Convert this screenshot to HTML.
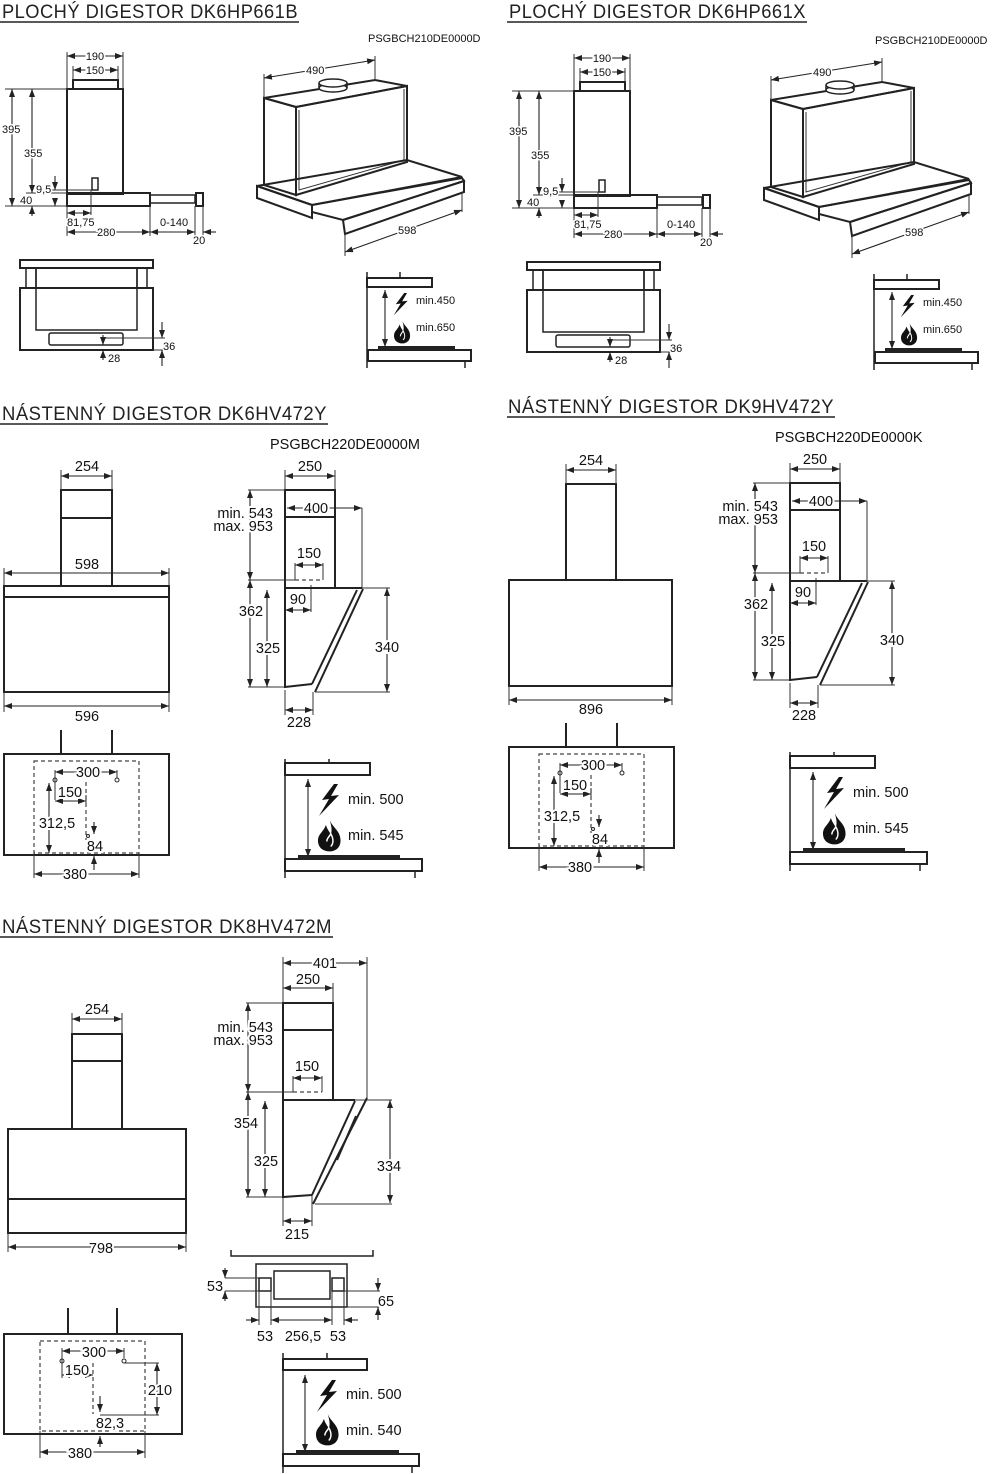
<!DOCTYPE html>
<html><head><meta charset="utf-8"><style>
html,body{margin:0;padding:0;background:#fff}
svg{display:block;font-family:"Liberation Sans",sans-serif}
.o{fill:none;stroke:#222;stroke-width:2}
.t{fill:none;stroke:#333;stroke-width:1}
.d{fill:none;stroke:#222;stroke-width:1.1;marker-start:url(#a);marker-end:url(#a)}
.d1{fill:none;stroke:#222;stroke-width:1.1;marker-end:url(#a)}
.ds{fill:none;stroke:#444;stroke-width:1.2;stroke-dasharray:4 3}
.s{font-size:11px;fill:#111;stroke:#fff;stroke-width:3;paint-order:stroke}
.m{font-size:14.5px;fill:#111;stroke:#fff;stroke-width:4;paint-order:stroke}
.h{font-size:19px;fill:#222;letter-spacing:0.5px}
</style></head><body>
<svg width="993" height="1474" viewBox="0 0 993 1474" xmlns="http://www.w3.org/2000/svg">
<defs>
<marker id="a" viewBox="0 0 8 6" refX="8" refY="3" markerWidth="8" markerHeight="6" markerUnits="userSpaceOnUse" orient="auto-start-reverse"><path d="M0,0L8,3L0,6z" fill="#222"/></marker>
<path id="bolt" d="M16,0 L4,16 L11,15 L1,32 L21,11 L13,12 L20,0 Z" fill="#111"/>
<g id="flame"><path d="M12,0 C15,8 23,11 23,21 C23,28 18,32 12,32 C5,32 0,28 0,21 C0,14 6,12 8,5 C10,11 12,12 13,15 C15,10 13,4 12,0 Z" fill="#111"/><path d="M9,22 C9,18 12,17 13,14 C16,19 16,24 13,27" fill="none" stroke="#fff" stroke-width="1.5"/></g>

<g id="s1">
<text x="368" y="42" style="font-size:11px;fill:#111">PSGBCH210DE0000D</text>
<!-- side -->
<rect class="o" x="67" y="89" width="56" height="105"/>
<rect class="o" x="73" y="80" width="45" height="9"/>
<rect class="o" x="67" y="193" width="83" height="13"/>
<rect class="o" style="stroke-width:1.5" x="150" y="195" width="45" height="8"/>
<rect class="o" x="196" y="193" width="7" height="13"/>
<rect class="o" style="stroke-width:1.5" x="92" y="178" width="6" height="12"/>
<path class="t" d="M67,52V89M123,52V89M73,66V80M118,66V80M5,89H67M5,206H67M26,193H67M50,190H92M91,190V215M150,206V236M67,206V236M195,206V236M203,206V236"/>
<line class="d" x1="67" y1="56" x2="123" y2="56"/><text class="s" x="95" y="60" text-anchor="middle">190</text>
<line class="d" x1="73" y1="70" x2="118" y2="70"/><text class="s" x="95" y="74" text-anchor="middle">150</text>
<line class="d" x1="12" y1="89" x2="12" y2="206"/><text class="s" x="2" y="133">395</text>
<line class="d" x1="32" y1="89" x2="32" y2="193"/><text class="s" x="24" y="157">355</text>
<line class="d1" x1="55" y1="176" x2="55" y2="190"/><line class="d1" x1="55" y1="198" x2="55" y2="206"/><line class="d1" x1="32" y1="216" x2="32" y2="206"/>
<text class="s" x="36" y="193">9,5</text><text class="s" x="20" y="204">40</text>
<line class="d" x1="67" y1="213" x2="91" y2="213"/><text class="s" x="67" y="226">81,75</text>
<line class="d" x1="67" y1="232" x2="150" y2="232"/><text class="s" x="97" y="236">280</text>
<line class="d" x1="150" y1="232" x2="195" y2="232"/><text class="s" x="160" y="226">0-140</text>
<line class="d1" x1="216" y1="232" x2="203" y2="232"/><text class="s" x="193" y="244">20</text>
<!-- front -->
<rect class="o" x="20" y="260" width="133" height="8"/>
<rect class="o" style="stroke-width:1.5" x="26" y="268" width="10" height="20"/>
<rect class="o" style="stroke-width:1.5" x="137" y="268" width="10" height="20"/>
<rect class="o" x="20" y="288" width="133" height="62"/>
<rect class="o" style="stroke-width:1.5" x="36" y="268" width="101" height="62"/>
<rect class="o" style="stroke-width:1.5" x="49" y="333" width="74" height="12" rx="2"/>
<path class="t" d="M103,338H165M153,350H165"/>
<line class="d1" x1="162" y1="322" x2="162" y2="338"/><line class="d1" x1="162" y1="366" x2="162" y2="350"/>
<line class="d1" x1="103" y1="335" x2="103" y2="345"/><line class="d1" x1="103" y1="360" x2="103" y2="350"/>
<text class="s" x="163" y="350">36</text><text class="s" x="108" y="362">28</text>
<!-- perspective -->
<polygon class="o" points="264,98 375,80 407,86 296,107"/>
<polygon class="o" points="296,107 407,86 407,162 296,195"/>
<polygon class="o" points="264,98 296,107 296,195 264,185"/>
<path class="t" d="M299,110V190L404,160M404,89V160"/>
<polygon class="o" points="257,186 407,160 462,177 312,205"/>
<polygon class="o" points="257,186 312,205 312,218 257,198"/>
<polygon class="o" points="312,205 462,178 464,181 343,220 312,212"/>
<polygon class="o" points="343,220 464,181 464,192 345,234"/>
<ellipse cx="333" cy="88" rx="14" ry="4" fill="#fff" stroke="#222" stroke-width="1.5"/>
<path class="o" style="stroke-width:1.5" d="M319,88V83M347,88V83"/>
<ellipse cx="333" cy="83" rx="14" ry="4" fill="#fff" stroke="#222" stroke-width="1.5"/>
<path class="t" d="M264,98V74M375,80V56M345,234V256M462,192V212"/>
<line class="d" x1="264" y1="78" x2="375" y2="60"/><text class="s" x="306" y="74">490</text>
<line class="d" x1="345" y1="252" x2="462" y2="210"/><text class="s" x="398" y="234">598</text>
<!-- clearance -->
<path class="o" style="stroke-width:1.5" d="M367,272V368M400,272V278M465,361V368"/>
<rect class="o" x="367" y="278" width="65" height="9"/>
<rect class="o" x="368" y="350" width="103" height="11"/>
<rect x="378" y="346" width="77" height="4" fill="#222"/>
<line class="d" x1="385" y1="290" x2="385" y2="347"/>
<use href="#bolt" transform="translate(393,293) scale(0.7)"/>
<use href="#flame" transform="translate(394,321) scale(0.7)"/>
<text x="416" y="304" style="font-size:11px;fill:#111">min.450</text>
<text x="416" y="331" style="font-size:11px;fill:#111">min.650</text>
</g>

<g id="s2">
<!-- side -->
<rect class="o" x="285" y="490" width="50" height="98"/>
<line class="o" x1="285" y1="517" x2="335" y2="517"/>
<path class="t" d="M285,470V490M335,470V490M362,508V588M248,490H285M248,580H295M248,687H285M360,588H390M315,692H390M311,585V612M285,690V715M313,692V715M295,563V580M323,563V580"/>
<line class="d" x1="285" y1="476" x2="335" y2="476"/><text class="m" x="310" y="471" text-anchor="middle">250</text>
<line class="d" x1="287" y1="508" x2="362" y2="508"/><text class="m" x="316" y="513" text-anchor="middle">400</text>
<line class="d" x1="250" y1="490" x2="250" y2="580"/>
<text class="m" x="273" y="518" text-anchor="end">min. 543</text><text class="m" x="273" y="531" text-anchor="end">max. 953</text>
<line class="d" x1="295" y1="565" x2="323" y2="565"/><text class="m" x="309" y="558" text-anchor="middle">150</text>
<line class="ds" x1="295" y1="580" x2="323" y2="580"/>
<path class="o" d="M285,588H362M285,588V687L312,684M357,590L312,684"/>
<line class="o" x1="363" y1="589" x2="315" y2="692"/>
<line class="d" x1="250" y1="580" x2="250" y2="687"/><text class="m" x="251" y="616" text-anchor="middle">362</text>
<line class="d" x1="267" y1="590" x2="267" y2="687"/><text class="m" x="268" y="653" text-anchor="middle">325</text>
<line class="d" x1="285" y1="610" x2="311" y2="610"/><text class="m" x="298" y="604" text-anchor="middle">90</text>
<line class="d" x1="387" y1="588" x2="387" y2="692"/><text class="m" x="387" y="652" text-anchor="middle">340</text>
<line class="d" x1="285" y1="710" x2="313" y2="710"/><text class="m" x="299" y="727" text-anchor="middle">228</text>
<!-- mount -->
<rect class="o" x="4" y="754" width="165" height="101"/>
<path class="o" d="M61,730V754M112,730V754"/>
<rect class="ds" x="34" y="761" width="105" height="92"/>
<line class="ds" x1="86" y1="782" x2="86" y2="840"/>
<circle cx="55" cy="780" r="2" fill="none" stroke="#222"/><circle cx="117" cy="780" r="2" fill="none" stroke="#222"/>
<path class="t" d="M55,770V800M117,770V778M86,795V803M34,853V878M139,853V878"/>
<line class="d" x1="55" y1="772" x2="117" y2="772"/><text class="m" x="88" y="777" text-anchor="middle">300</text>
<line class="d" x1="55" y1="801" x2="86" y2="801"/><text class="m" x="70" y="797" text-anchor="middle">150</text>
<line class="d" x1="49" y1="783" x2="49" y2="853"/><text class="m" x="57" y="828" text-anchor="middle">312,5</text>
<line class="d1" x1="94" y1="822" x2="94" y2="834"/><circle cx="88" cy="836" r="1.5" fill="none" stroke="#222"/>
<text class="m" x="95" y="851" text-anchor="middle">84</text>
<line class="d1" x1="94" y1="870" x2="94" y2="856"/>
<line class="d" x1="34" y1="874" x2="139" y2="874"/><text class="m" x="75" y="879" text-anchor="middle">380</text>
<!-- clearance -->
<path class="o" style="stroke-width:1.5" d="M285,759V878M329,759V763M415,871V878"/>
<rect class="o" x="285" y="763" width="85" height="12"/>
<rect class="o" x="285" y="859" width="137" height="12"/>
<rect x="298" y="855" width="102" height="4" fill="#222"/>
<line class="d" x1="308" y1="779" x2="308" y2="857"/>
<use href="#bolt" transform="translate(318,784) scale(1)"/>
<use href="#flame" transform="translate(318,820) scale(0.98)"/>
<text x="348" y="804" style="font-size:14.5px;fill:#111">min. 500</text>
<text x="348" y="840" style="font-size:14.5px;fill:#111">min. 545</text>
</g>
</defs>

<!-- Section 1 -->
<text class="h" x="2" y="18" textLength="296" lengthAdjust="spacingAndGlyphs">PLOCHÝ DIGESTOR DK6HP661B</text>
<line x1="0" y1="22" x2="299" y2="22" stroke="#222" stroke-width="1.5"/>
<use href="#s1"/>
<text class="h" x="509" y="18" textLength="297" lengthAdjust="spacingAndGlyphs">PLOCHÝ DIGESTOR DK6HP661X</text>
<line x1="507" y1="22" x2="807" y2="22" stroke="#222" stroke-width="1.5"/>
<use href="#s1" transform="translate(507,2)"/>

<!-- Section 2 left -->
<text class="h" x="2" y="420" textLength="325" lengthAdjust="spacingAndGlyphs">NÁSTENNÝ DIGESTOR DK6HV472Y</text>
<line x1="0" y1="424" x2="328" y2="424" stroke="#222" stroke-width="1.5"/>
<text x="270" y="449" style="font-size:14.5px;fill:#111">PSGBCH220DE0000M</text>
<rect class="o" x="61" y="490" width="51" height="96"/>
<line class="o" x1="61" y1="518" x2="112" y2="518"/>
<rect class="o" x="4" y="586" width="165" height="106"/>
<line class="o" x1="4" y1="597" x2="169" y2="597"/>
<path class="t" d="M61,470V490M112,470V490M4,568V586M169,568V586M4,692V712M169,692V712"/>
<line class="d" x1="61" y1="476" x2="112" y2="476"/><text class="m" x="87" y="471" text-anchor="middle">254</text>
<line class="d" x1="4" y1="573" x2="169" y2="573"/><text class="m" x="87" y="569" text-anchor="middle">598</text>
<line class="d" x1="4" y1="706" x2="169" y2="706"/><text class="m" x="87" y="721" text-anchor="middle">596</text>
<use href="#s2"/>

<!-- Section 2 right -->
<text class="h" x="508" y="413" textLength="326" lengthAdjust="spacingAndGlyphs">NÁSTENNÝ DIGESTOR DK9HV472Y</text>
<line x1="507" y1="417" x2="835" y2="417" stroke="#222" stroke-width="1.5"/>
<text x="775" y="442" style="font-size:14.5px;fill:#111">PSGBCH220DE0000K</text>
<rect class="o" x="566" y="484" width="50" height="96"/>
<rect class="o" x="509" y="580" width="163" height="106"/>
<path class="t" d="M566,464V484M616,464V484M509,686V705M672,686V705"/>
<line class="d" x1="566" y1="470" x2="616" y2="470"/><text class="m" x="591" y="465" text-anchor="middle">254</text>
<line class="d" x1="509" y1="700" x2="672" y2="700"/><text class="m" x="591" y="714" text-anchor="middle">896</text>
<use href="#s2" transform="translate(505,-7)"/>

<!-- Section 3 -->
<text class="h" x="2" y="933" textLength="330" lengthAdjust="spacingAndGlyphs">NÁSTENNÝ DIGESTOR DK8HV472M</text>
<line x1="0" y1="937" x2="333" y2="937" stroke="#222" stroke-width="1.5"/>
<!-- front -->
<rect class="o" x="72" y="1034" width="50" height="95"/>
<line class="o" x1="72" y1="1061" x2="122" y2="1061"/>
<rect class="o" x="8" y="1129" width="178" height="104"/>
<line class="o" x1="8" y1="1199" x2="186" y2="1199"/>
<path class="t" d="M72,1013V1034M122,1013V1034M8,1233V1252M186,1233V1252"/>
<line class="d" x1="72" y1="1019" x2="122" y2="1019"/><text class="m" x="97" y="1014" text-anchor="middle">254</text>
<line class="d" x1="8" y1="1247" x2="186" y2="1247"/><text class="m" x="101" y="1253" text-anchor="middle">798</text>
<!-- side -->
<rect class="o" x="283" y="1003" width="50" height="97"/>
<line class="o" x1="283" y1="1030" x2="333" y2="1030"/>
<path class="t" d="M283,957V1003M333,983V1003M367,957V1098M246,1003H283M246,1092H293M246,1197H283M355,1100H392M315,1204H392M283,1197V1226M312,1195V1226M293,1076V1092M322,1076V1092"/>
<line class="d" x1="283" y1="963" x2="367" y2="963"/><text class="m" x="325" y="968" text-anchor="middle">401</text>
<line class="d" x1="283" y1="988" x2="333" y2="988"/><text class="m" x="308" y="984" text-anchor="middle">250</text>
<line class="d" x1="248" y1="1003" x2="248" y2="1092"/>
<text class="m" x="273" y="1032" text-anchor="end">min. 543</text><text class="m" x="273" y="1045" text-anchor="end">max. 953</text>
<line class="d" x1="293" y1="1078" x2="322" y2="1078"/><text class="m" x="307" y="1071" text-anchor="middle">150</text>
<line class="ds" x1="293" y1="1092" x2="322" y2="1092"/>
<path class="o" d="M283,1100H355M283,1100V1197L312,1195M355,1101L312,1195"/>
<line class="o" x1="367" y1="1098" x2="313" y2="1204"/>
<line class="o" x1="356" y1="1116" x2="337" y2="1160"/>
<line class="d" x1="248" y1="1092" x2="248" y2="1197"/><text class="m" x="246" y="1128" text-anchor="middle">354</text>
<line class="d" x1="265" y1="1101" x2="265" y2="1197"/><text class="m" x="266" y="1166" text-anchor="middle">325</text>
<line class="d" x1="390" y1="1100" x2="390" y2="1203"/><text class="m" x="389" y="1171" text-anchor="middle">334</text>
<line class="d" x1="283" y1="1221" x2="312" y2="1221"/><text class="m" x="297" y="1239" text-anchor="middle">215</text>
<!-- top mount -->
<path class="o" style="stroke-width:1.5" d="M231,1250V1256H373V1250"/>
<rect class="o" style="stroke-width:1.5" x="256" y="1264" width="91" height="43"/>
<rect class="o" style="stroke-width:1.5" x="274" y="1271" width="56" height="28"/>
<rect class="o" style="stroke-width:1.5" x="259" y="1278" width="12" height="13"/>
<rect class="o" style="stroke-width:1.5" x="332" y="1278" width="12" height="13"/>
<path class="t" d="M225,1278H259M225,1291H259M344,1291H380M347,1307H380M259,1291V1325M271,1291V1325M332,1291V1325M344,1291V1325"/>
<line class="d1" x1="225" y1="1268" x2="225" y2="1278"/><line class="d1" x1="225" y1="1301" x2="225" y2="1291"/>
<text class="m" x="215" y="1291" text-anchor="middle">53</text>
<line class="d1" x1="378" y1="1278" x2="378" y2="1291"/><line class="d1" x1="378" y1="1320" x2="378" y2="1307"/>
<text class="m" x="386" y="1306" text-anchor="middle">65</text>
<line class="d1" x1="246" y1="1320" x2="259" y2="1320"/>
<line class="d" x1="271" y1="1320" x2="332" y2="1320"/>
<line class="d1" x1="358" y1="1320" x2="344" y2="1320"/>
<text class="m" x="265" y="1341" text-anchor="middle">53</text>
<text class="m" x="303" y="1341" text-anchor="middle">256,5</text>
<text class="m" x="338" y="1341" text-anchor="middle">53</text>
<!-- mount plate -->
<rect class="o" x="4" y="1334" width="178" height="100"/>
<path class="o" d="M68,1308V1334M117,1308V1334"/>
<rect class="ds" x="40" y="1341" width="105" height="90"/>
<line class="ds" x1="93" y1="1363" x2="93" y2="1414"/>
<circle cx="62" cy="1361" r="2" fill="none" stroke="#222"/><circle cx="124" cy="1361" r="2" fill="none" stroke="#222"/>
<path class="t" d="M62,1348V1378M124,1348V1358M124,1363H159M100,1415H159M40,1431V1458M145,1431V1458"/>
<line class="d" x1="62" y1="1351" x2="124" y2="1351"/><text class="m" x="94" y="1357" text-anchor="middle">300</text>
<line class="d" x1="62" y1="1375" x2="93" y2="1375"/><text class="m" x="77" y="1375" text-anchor="middle">150</text>
<line class="d" x1="157" y1="1363" x2="157" y2="1415"/><text class="m" x="160" y="1395" text-anchor="middle">210</text>
<line class="d1" x1="100" y1="1396" x2="100" y2="1412"/>
<text class="m" x="110" y="1428" text-anchor="middle">82,3</text>
<line class="d1" x1="100" y1="1447" x2="100" y2="1436"/>
<line class="d" x1="40" y1="1452" x2="145" y2="1452"/><text class="m" x="80" y="1458" text-anchor="middle">380</text>
<!-- clearance -->
<path class="o" style="stroke-width:1.5" d="M283,1353V1473M327,1353V1359M412,1466V1473"/>
<rect class="o" x="283" y="1359" width="84" height="11"/>
<rect class="o" x="283" y="1454" width="136" height="12"/>
<rect x="296" y="1450" width="103" height="4" fill="#222"/>
<line class="d" x1="305" y1="1375" x2="305" y2="1452"/>
<use href="#bolt" transform="translate(316,1380) scale(1)"/>
<use href="#flame" transform="translate(316,1414) scale(0.98)"/>
<text x="346" y="1399" style="font-size:14.5px;fill:#111">min. 500</text>
<text x="346" y="1435" style="font-size:14.5px;fill:#111">min. 540</text>
</svg>
</body></html>
